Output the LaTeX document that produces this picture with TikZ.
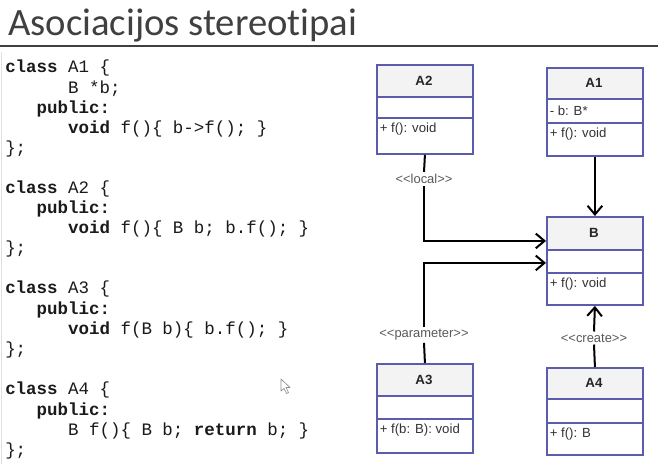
\documentclass[tikz,border=0pt]{standalone}
\usepackage{fontspec}
\setmainfont{Liberation Sans}
\newfontfamily\titlefont[Ligatures=NoCommon]{Carlito}
\newfontfamily\codefont{Liberation Mono}
\usetikzlibrary{arrows.meta,calc}

\definecolor{umlblue}{HTML}{5C5CAC}
\definecolor{hdrfill}{HTML}{F3F3F3}
\definecolor{titlegray}{HTML}{404040}
\definecolor{codeink}{HTML}{1A1A1A}

% one UML class: name, left x, top y, header bottom, attribute bottom, bottom,
% title, attribute text, operation text
\newcommand\umlclass[9]{%
  \fill[hdrfill] (#2,#3) rectangle (#2+96,#4);
  \draw[compline] (#2,#4) -- (#2+96,#4) (#2,#5) -- (#2+96,#5);
  \node[classframe, minimum height={(#6-#3)*0.75pt}, anchor=north west] (#1) at (#2,#3) {};
  \node[classtitle] (#1-title) at (#2+48,{(#3+#4)/2}) {#7};
  \node[member] (#1-attr) at (#2+3.5,{(#4+#5)/2}) {#8};
  \node[member] (#1-op) at (#2+3.5,#5+11) {#9};
}
\newcommand\stereo[1]{<\kern0pt<#1>\kern0pt>}
\newcommand\kw[1]{\textbf{#1}}

\tikzset{
  compline/.style={umlblue, line width=1.3pt},
  classframe/.style={draw=umlblue, line width=1.4pt, minimum width=72pt, inner sep=0pt},
  classtitle/.style={font=\fontsize{10}{12}\selectfont\bfseries, text=black!85, inner sep=0pt},
  member/.style={font=\fontsize{9.9}{11}\selectfont, text=black!80, anchor=west, inner sep=0pt},
  stereotype/.style={font=\fontsize{9.7}{11}\selectfont, text=black!65, fill=white, inner sep=1.5pt},
  link/.style={line width=1.5pt, black},
  dep/.style={link, -{Straight Barb[length=6.5pt, width=11pt, line width=1.5pt]}},
  codeblock/.style={font=\codefont\fontsize{13.1}{15.1}\selectfont\frenchspacing, text=codeink,
    align=left, anchor=north west, inner sep=0pt},
}

\begin{document}
\begin{tikzpicture}[x=0.75pt, y=-0.75pt]
  \fill[white] (0,0) rectangle (658,464);
  \useasboundingbox (0,0) rectangle (658,464);

  % heading and rule
  \node[font=\titlefont\fontsize{29}{34}\selectfont, text=titlegray, anchor=base west, inner sep=0pt]
    (heading) at (8,36) {Asociacijos stereot\kern0pt ipai};
  \draw[line width=1.1pt, black!75] (0,46) -- (658,46);
  \draw[line width=0.6pt, black!12] (1.5,52) -- (1.5,464);

  % C++ source
  \node[codeblock] (codeA1) at (5,60) {%
    \kw{class} A1 \{\\
    \phantom{000000}B *b;\\
    \phantom{000}\kw{public:}\\
    \phantom{000000}\kw{void} f()\{ b->f(); \}\\
    \};};
  \node[codeblock] (codeA2) at (5,180.5) {%
    \kw{class} A2 \{\\
    \phantom{000}\kw{public:}\\
    \phantom{000000}\kw{void} f()\{ B b; b.f(); \}\\
    \};};
  \node[codeblock] (codeA3) at (5,281) {%
    \kw{class} A3 \{\\
    \phantom{000}\kw{public:}\\
    \phantom{000000}\kw{void} f(B b)\{ b.f(); \}\\
    \};};
  \node[codeblock] (codeA4) at (5,382) {%
    \kw{class} A4 \{\\
    \phantom{000}\kw{public:}\\
    \phantom{000000}B f()\{ B b; \kw{return} b; \}\\
    \};};

  % mouse pointer
  \draw[black!45, fill=white, line width=0.5pt, line join=round]
    (281,379) -- (281,391) -- (284,388.5) -- (286.5,393.5) -- (288.5,392.5) -- (286,387.5) -- (290,387.5) -- cycle;

  % class boxes
  \umlclass{A2}{376}{64}{97}{118}{153}{A2}{}{+ f(): void}
  \umlclass{A1}{546}{67}{99}{123}{155}{A1}{- b: B*}{+ f(): void}
  \umlclass{B}{546}{216}{250}{273}{304}{B}{}{+ f(): void}
  \umlclass{A3}{376}{363}{396}{419}{452}{A3}{}{+ f(b: B): void}
  \umlclass{A4}{546}{367}{399}{423}{454}{A4}{}{+ f(): B}

  % stereotype labels
  \node[stereotype] (local) at (424,179) {\stereo{local}};
  \node[stereotype] (param) at (424,335) {\stereo{parameter}};
  \node[stereotype] (create) at (594,338) {\stereo{create}};

  % dependencies
  \draw[dep] (A1.south) -- (B.north);
  \draw[link] (A2.south) -- (local.north);
  \draw[dep] (local.south) |- ($(B.west)+(0,-20)$);
  \draw[link] (A3.north) -- (param.south);
  \draw[dep] (param.north) |- ($(B.west)+(0,2)$);
  \draw[link] (A4.north) -- (create.south);
  \draw[dep] (create.north) -- (B.south);
\end{tikzpicture}
\end{document}
